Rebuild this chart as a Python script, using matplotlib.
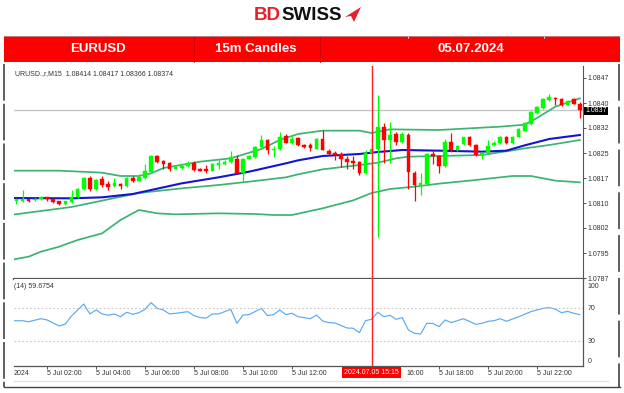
import matplotlib
matplotlib.use('Agg')
import matplotlib.pyplot as plt
import matplotlib.transforms as mtransforms
from matplotlib.patches import Rectangle, Polygon
from matplotlib.lines import Line2D
import numpy as np

plt.rcParams['font.family'] = ['Liberation Sans', 'DejaVu Sans']

# 15m bars of 05.07.2024, first visible bar is 00:45 (bar index 3)
first_bar = 3
opens = [
    1.08100, 1.08102, 1.08106, 1.08103, 1.08106, 1.08112, 1.08108, 1.08100, 1.08092, 1.08098,
    1.08112, 1.08136, 1.08170, 1.08136, 1.08166, 1.08152, 1.08146, 1.08152, 1.08146, 1.08170,
    1.08162, 1.08170, 1.08188, 1.08236, 1.08220, 1.08216, 1.08198, 1.08200, 1.08206, 1.08216,
    1.08198, 1.08196, 1.08192, 1.08210, 1.08212, 1.08218, 1.08228, 1.08184, 1.08228, 1.08232,
    1.08262, 1.08284, 1.08254, 1.08256, 1.08296, 1.08274, 1.08289, 1.08268, 1.08268, 1.08258,
    1.08288, 1.08250, 1.08244, 1.08242, 1.08228, 1.08222, 1.08218, 1.08184, 1.08246, 1.08258,
    1.08322, 1.08284, 1.08302, 1.08278, 1.08300, 1.08186, 1.08150, 1.08152, 1.08242, 1.08236,
    1.08206, 1.08278, 1.08253, 1.08272, 1.08292, 1.08270, 1.08238, 1.08248, 1.08268, 1.08274,
    1.08294, 1.08274, 1.08294, 1.08312, 1.08332, 1.08364, 1.08380, 1.08404, 1.08410, 1.08406,
    1.08390, 1.08406, 1.08391]
highs = [
    1.08108, 1.08134, 1.08107, 1.08110, 1.08115, 1.08114, 1.08110, 1.08102, 1.08101, 1.08134,
    1.08140, 1.08173, 1.08176, 1.08167, 1.08176, 1.08160, 1.08170, 1.08155, 1.08173, 1.08176,
    1.08182, 1.08212, 1.08239, 1.08239, 1.08224, 1.08218, 1.08206, 1.08209, 1.08222, 1.08220,
    1.08200, 1.08208, 1.08215, 1.08228, 1.08224, 1.08250, 1.08238, 1.08230, 1.08239, 1.08265,
    1.08298, 1.08286, 1.08266, 1.08308, 1.08302, 1.08296, 1.08292, 1.08272, 1.08274, 1.08290,
    1.08314, 1.08257, 1.08250, 1.08248, 1.08236, 1.08236, 1.08222, 1.08254, 1.08268, 1.08418,
    1.08336, 1.08338, 1.08308, 1.08308, 1.08304, 1.08190, 1.08184, 1.08245, 1.08254, 1.08239,
    1.08286, 1.08304, 1.08269, 1.08294, 1.08296, 1.08272, 1.08248, 1.08284, 1.08281, 1.08296,
    1.08296, 1.08296, 1.08320, 1.08338, 1.08371, 1.08386, 1.08409, 1.08422, 1.08412, 1.08409,
    1.08405, 1.08409, 1.08398]
lows = [
    1.08092, 1.08098, 1.08098, 1.08101, 1.08104, 1.08102, 1.08096, 1.08090, 1.08090, 1.08096,
    1.08110, 1.08134, 1.08132, 1.08134, 1.08142, 1.08134, 1.08143, 1.08138, 1.08143, 1.08158,
    1.08160, 1.08167, 1.08185, 1.08215, 1.08196, 1.08192, 1.08196, 1.08197, 1.08203, 1.08191,
    1.08190, 1.08186, 1.08190, 1.08198, 1.08209, 1.08215, 1.08184, 1.08162, 1.08226, 1.08230,
    1.08260, 1.08242, 1.08233, 1.08254, 1.08274, 1.08272, 1.08266, 1.08260, 1.08250, 1.08256,
    1.08253, 1.08239, 1.08224, 1.08204, 1.08198, 1.08198, 1.08178, 1.08182, 1.08244, 1.07994,
    1.08214, 1.08214, 1.08270, 1.08275, 1.08137, 1.08100, 1.08118, 1.08149, 1.08212, 1.08186,
    1.08203, 1.08248, 1.08250, 1.08269, 1.08266, 1.08236, 1.08228, 1.08245, 1.08266, 1.08272,
    1.08272, 1.08272, 1.08292, 1.08310, 1.08329, 1.08362, 1.08377, 1.08401, 1.08390, 1.08386,
    1.08388, 1.08391, 1.08350]
closes = [
    1.08106, 1.08108, 1.08100, 1.08108, 1.08112, 1.08106, 1.08098, 1.08092, 1.08100, 1.08112,
    1.08138, 1.08170, 1.08138, 1.08164, 1.08150, 1.08144, 1.08154, 1.08146, 1.08170, 1.08162,
    1.08173, 1.08190, 1.08236, 1.08218, 1.08212, 1.08198, 1.08204, 1.08206, 1.08216, 1.08194,
    1.08192, 1.08190, 1.08212, 1.08216, 1.08218, 1.08234, 1.08186, 1.08228, 1.08236, 1.08262,
    1.08284, 1.08253, 1.08258, 1.08294, 1.08276, 1.08286, 1.08268, 1.08264, 1.08260, 1.08288,
    1.08254, 1.08242, 1.08238, 1.08228, 1.08218, 1.08216, 1.08184, 1.08246, 1.08256, 1.08322,
    1.08284, 1.08300, 1.08278, 1.08302, 1.08188, 1.08150, 1.08154, 1.08242, 1.08236, 1.08205,
    1.08278, 1.08253, 1.08266, 1.08292, 1.08268, 1.08240, 1.08246, 1.08266, 1.08276, 1.08294,
    1.08274, 1.08294, 1.08316, 1.08334, 1.08368, 1.08384, 1.08406, 1.08414, 1.08406, 1.08388,
    1.08402, 1.08392, 1.08374]

# indicator lines, read at a few bars each
upper_idx = [2, 10, 17, 20, 23, 25, 27, 33, 38, 43, 46, 49, 53, 59, 61, 64, 72, 82, 86, 88, 91, 95]
upper = [1.08192, 1.08192, 1.08186, 1.08176, 1.08176, 1.08184, 1.08200, 1.08219, 1.08229, 1.08257,
         1.08284, 1.08302, 1.08312, 1.08312, 1.08305, 1.08316, 1.08314, 1.08324, 1.08330, 1.08350,
         1.08384, 1.08409]
ma_idx = [2, 12, 17, 22, 25, 30, 36, 41, 47, 49, 53, 59, 62, 66, 72, 79, 83, 86, 90, 95]
ma = [1.08110, 1.08109, 1.08112, 1.08122, 1.08134, 1.08154, 1.08172, 1.08189, 1.08214, 1.08223,
      1.08236, 1.08242, 1.08248, 1.08254, 1.08252, 1.08249, 1.08252, 1.08268, 1.08287, 1.08299]
lower_idx = [2, 12, 18, 23, 25, 30, 36, 41, 47, 49, 53, 59, 62, 65, 67, 72, 79, 83, 86, 90, 95]
lower = [1.08059, 1.08083, 1.08106, 1.08125, 1.08129, 1.08139, 1.08149, 1.08159, 1.08172, 1.08181,
         1.08196, 1.08209, 1.08216, 1.08229, 1.08234, 1.08236, 1.08239, 1.08250, 1.08259, 1.08269,
         1.08284]
far_idx = [2, 5, 7, 10, 13, 17, 20, 23, 26, 29, 36, 42, 45, 48, 53, 58, 61, 64, 68, 72, 78, 84, 87, 91, 95]
far = [1.07924, 1.07934, 1.07949, 1.07964, 1.07984, 1.08004, 1.08044, 1.08074, 1.08064, 1.08061,
       1.08064, 1.08062, 1.08059, 1.08059, 1.08079, 1.08103, 1.08125, 1.08137, 1.08144, 1.08153,
       1.08164, 1.08176, 1.08176, 1.08162, 1.08157]

rsi_idx = [2.6, 4, 5, 7, 8, 10, 11, 12, 14, 15, 16, 17, 18, 19, 20, 21, 22, 23, 24, 25,
           26, 27, 28, 29, 31, 32, 33, 34, 35, 36, 38, 39, 40, 41, 43, 44, 45, 46, 47, 48,
           49, 51, 52, 53, 54, 55, 57, 58, 59, 60, 61, 62, 63, 64, 65, 66, 67, 68, 69, 70,
           71, 72, 73, 74, 76, 78, 79, 80, 81, 82, 83, 85, 87, 89, 90, 91, 92, 93, 94, 95]
rsi = [54.4, 54.4, 53.2, 56.9, 55.4, 48.0, 50.4, 60.2, 74.9, 62.7, 67.6, 62.7, 61.1, 62.7, 59.3,
       64.8, 62.3, 64.2, 68.4, 76.5, 69.6, 67.6, 62.7, 63.5, 65.5, 60.6, 58.2, 57.7, 62.7, 62.7,
       68.4, 51.2, 61.4, 61.9, 69.6, 60.6, 61.9, 67.6, 61.9, 63.5, 59.3, 56.9, 61.4, 54.1, 52.1,
       51.7, 45.5, 45.2, 39.8, 54.5, 56.2, 64.8, 59.3, 61.1, 56.2, 58.2, 43.1, 39.0, 38.2, 51.2,
       51.2, 47.2, 55.4, 52.1, 56.9, 50.0, 51.2, 53.7, 54.5, 56.9, 53.7, 59.3, 65.5, 69.6, 70.4,
       68.7, 64.2, 65.9, 63.5, 61.9]

last_price = 1.08374
cursor_bar = 61
price_ticks = [1.0787 + k * 0.00075 for k in range(9)]
price_labels = ['1.0787', '1.0795', '1.0802', '1.0810', '1.0817', '1.0825', '1.0832', '1.0840', '1.0847']
# 14:00 sits under the cursor date box, 16:00 is half hidden by it
time_ticks = [8, 16, 24, 32, 40, 48, 64, 72, 80, 88]
time_labels = ['5 Jul 02:00', '5 Jul 04:00', '5 Jul 06:00', '5 Jul 08:00', '5 Jul 10:00',
               '5 Jul 12:00', '', '5 Jul 18:00', '5 Jul 20:00', '5 Jul 22:00']

W, H = 624, 393
fig = plt.figure(figsize=(W / 100, H / 100), dpi=100)


def fx(x):
    return x / W


def fy(y):
    return 1 - y / H


def box(x0, y0, x1, y1):
    return [fx(x0), fy(y1), (x1 - x0) / W, (y1 - y0) / H]


ax = fig.add_axes(box(14, 66, 583, 279))
ax2 = fig.add_axes(box(14, 279, 583, 366))

# candles
o, h, l, c = map(np.array, (opens, highs, lows, closes))
bars = np.arange(first_bar, first_bar + len(o))
col = np.where(c >= o, '#00ff00', '#ff0000')
ax.vlines(bars, l, h, colors=col, lw=0.9, zorder=3)
ax.bar(bars, np.maximum(np.abs(c - o), 0.000015), bottom=np.minimum(o, c), width=0.6,
       color=col, edgecolor=col, lw=0.3, zorder=4)

green = '#3cb371'
ax.plot(upper_idx, upper, color=green, lw=1.25, zorder=2)
ax.plot(lower_idx, lower, color=green, lw=1.25, zorder=2)
ax.plot(far_idx, far, color=green, lw=1.25, zorder=2)
ax.plot(ma_idx, ma, color='#1414d2', lw=1.5, zorder=2)
ax.axhline(last_price, color='#c3c7cc', lw=1, zorder=1)
ax.axvline(cursor_bar, color='#ff2020', lw=1, zorder=5)

ax.set_xlim(2.61, 95.51)
ax.set_ylim(1.07867, 1.08506)
ax.set_xticks([])
ax.yaxis.tick_right()
ax.set_yticks(price_ticks)
ax.set_yticklabels(price_labels)
ax.tick_params(axis='y', length=2, width=0.6, pad=1.5, labelsize=5, colors='#333333')
for s in ('top', 'left'):
    ax.spines[s].set_visible(False)
ax.spines['right'].set_color('#555555')
ax.spines['right'].set_linewidth(0.8)
ax.spines['bottom'].set_color('#555555')
ax.spines['bottom'].set_linewidth(1.6)

ax.text(1.004, last_price - 0.00003, '1.0837',
        transform=mtransforms.blended_transform_factory(ax.transAxes, ax.transData),
        ha='left', va='center', fontsize=5, color='white', zorder=10,
        bbox=dict(boxstyle='square,pad=0.12', fc='black', ec='none'))
fig.text(fx(15), fy(74), 'URUSD.,r,M15  1.08414 1.08417 1.08366 1.08374', fontsize=5,
         color='#333333', va='center', ha='left')

# RSI pane
ax2.plot(rsi_idx, rsi, color='#5aaaf2', lw=0.85)
for lev in (30, 70):
    ax2.axhline(lev, color='#c8c8c8', lw=0.8, ls=(0, (1.5, 2)))
ax2.axvline(cursor_bar, color='#ff2020', lw=1, zorder=5)
ax2.set_xlim(2.61, 95.51)
ax2.set_ylim(-1.0, 105.5)
ax2.yaxis.tick_right()
ax2.set_yticks([5.2, 30, 70, 97.3])
ax2.set_yticklabels(['0', '30', '70', '100'])
ax2.tick_params(axis='y', length=0, pad=3.5, labelsize=5, colors='#333333')
ax2.set_xticks(time_ticks)
ax2.set_xticklabels(time_labels)
ax2.tick_params(axis='x', length=2, width=0.6, pad=1.2, labelsize=5, colors='#333333')
for lab in ax2.get_xticklabels():
    lab.set_ha('left')
for s in ('top', 'left'):
    ax2.spines[s].set_visible(False)
for s in ('right', 'bottom'):
    ax2.spines[s].set_color('#555555')
    ax2.spines[s].set_linewidth(0.9)
fig.text(fx(14), fy(287), '(14) 59.6754', fontsize=5, color='#333333', va='center', ha='left')
fig.text(fx(14), fy(373.5), '2024', fontsize=5, color='#333333', va='center', ha='left')
fig.text(fx(406), fy(373.5), '16:00', fontsize=5, color='#333333', va='center', ha='left')
ax2.text(cursor_bar, -0.03, '2024.07.05 15:15',
         transform=mtransforms.blended_transform_factory(ax2.transData, ax2.transAxes),
         ha='center', va='top', fontsize=5, color='white', zorder=10, clip_on=False,
         bbox=dict(boxstyle='square,pad=0.3', fc='#ff0000', ec='none'))

# outer frame of the screenshot
fig.add_artist(Line2D([fx(14), fx(608)], [fy(381), fy(381)], color='#dddddd', lw=0.8))
fig.add_artist(Line2D([fx(4), fx(620)], [fy(387), fy(387)], color='#444444', lw=1.0))
fig.add_artist(Line2D([fx(4), fx(4)], [fy(64), fy(387)], color='#333333', lw=1.1, ls=(0, (24, 2))))
fig.add_artist(Line2D([fx(619), fx(619)], [fy(64), fy(387)], color='#333333', lw=1.1, ls=(0, (24, 4))))

# header banner
fig.add_artist(Rectangle((fx(4), fy(62)), (620 - 4) / W, (62 - 36) / H, transform=fig.transFigure,
                         fc='#ff0000', ec='none'))
for xd in (194, 320):
    fig.add_artist(Line2D([fx(xd), fx(xd)], [fy(36), fy(62)], color='#c80000', lw=0.6))
for xd in (408, 544):
    fig.add_artist(Line2D([fx(xd), fx(xd)], [fy(36), fy(38)], color='#e0e0e0', lw=0.6))
fig.add_artist(Line2D([fx(4), fx(620)], [fy(36), fy(36)], color='#b0b0b0', lw=0.5))
for txt, xc in (('EURUSD', 98), ('15m Candles', 256), ('05.07.2024', 471)):
    fig.text(fx(xc), fy(49), txt, fontsize=9.5, fontweight='bold', color='white', ha='center', va='center')

# logo
fig.text(fx(281), fy(15.5), 'BD', fontsize=13.5, fontweight='bold', color='#e8202a', ha='right', va='center')
fig.text(fx(281), fy(15.5), 'SWISS', fontsize=13.5, fontweight='bold', color='#111111', ha='left', va='center')
plane = [(345, 17), (361, 7), (354, 22), (351, 16)]
fig.add_artist(Polygon([(fx(px), fy(py)) for px, py in plane], closed=True, transform=fig.transFigure,
                       fc='#e8202a', ec='none'))

fig.savefig('out.png', dpi=100)
